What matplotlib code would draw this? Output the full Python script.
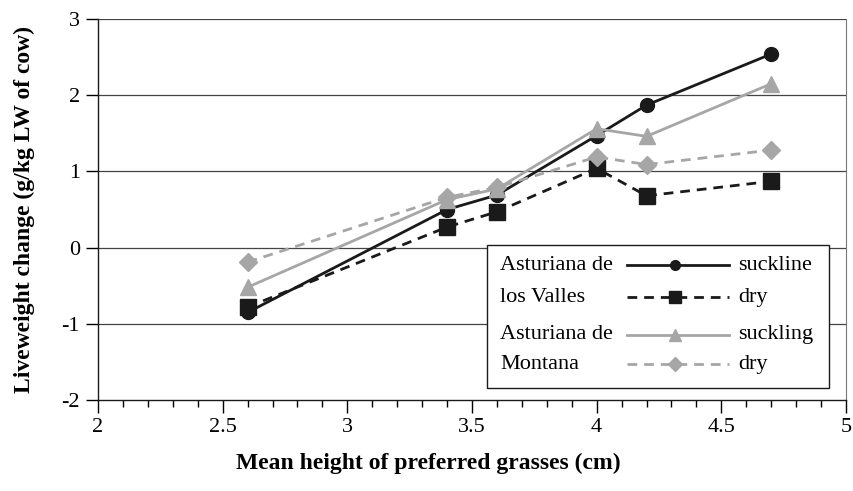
import matplotlib.pyplot as plt
from matplotlib.lines import Line2D
from matplotlib.patches import Rectangle
from matplotlib.ticker import MultipleLocator

plt.rcParams['font.family'] = ['Liberation Serif', 'DejaVu Serif']
plt.rcParams['axes.unicode_minus'] = False

height = [2.6, 3.4, 3.6, 4.0, 4.2, 4.7]
valles_suckling = [-0.85, 0.50, 0.69, 1.47, 1.87, 2.54]
valles_dry = [-0.78, 0.27, 0.47, 1.04, 0.68, 0.87]
montana_suckling = [-0.52, 0.63, 0.77, 1.56, 1.46, 2.15]
montana_dry = [-0.19, 0.66, 0.79, 1.19, 1.09, 1.28]

BLACK = '#1a1a1a'
GREY = '#a6a6a6'

fig = plt.figure(figsize=(8.54, 4.91), dpi=100)
ax = fig.add_axes([0.1148, 0.1853, 0.8758, 0.776])

ax.set_xlim(2, 5)
ax.set_ylim(-2, 3)
for y in range(-1, 4):
    ax.axhline(y, color='#444444', lw=0.9, zorder=1)

dash = (0, (3.5, 2.5))
styles = [
    (valles_suckling, BLACK, '-', 'o', 10, 7),
    (valles_dry, BLACK, dash, 's', 11, 9),
    (montana_suckling, GREY, '-', '^', 11, 9),
    (montana_dry, GREY, dash, 'D', 9, 7),
]
for vals, col, ls, mk, ms, _ in styles:
    ax.plot(height, vals, color=col, ls=ls, lw=2, marker=mk, ms=ms,
            markerfacecolor=col, markeredgecolor=col, zorder=3)

ax.xaxis.set_minor_locator(MultipleLocator(0.1))
ax.yaxis.set_major_locator(MultipleLocator(1))
ax.set_xticks([2, 2.5, 3, 3.5, 4, 4.5, 5])
ax.set_xticklabels(['2', '2.5', '3', '3.5', '4', '4.5', '5'])
ax.tick_params(axis='x', which='major', length=9, width=1, direction='out', labelsize=16, pad=4)
ax.tick_params(axis='x', which='minor', length=5, width=1, direction='out')
ax.tick_params(axis='y', which='major', length=9, width=1, direction='out', labelsize=16, pad=4)

ax.spines['top'].set_visible(False)
ax.spines['right'].set_color('#777777')
for s in ['left', 'bottom']:
    ax.spines[s].set_color(BLACK)
    ax.spines[s].set_linewidth(1)

ax.set_xlabel('Mean height of preferred grasses (cm)', fontsize=17, fontweight='bold')
ax.set_ylabel('Liveweight change (g/kg LW of cow)', fontsize=17, fontweight='bold')
ax.xaxis.set_label_coords(0.441, -0.138)
ax.yaxis.set_label_coords(-0.084, 0.5)

# custom legend
box = Rectangle((0.52, 0.032), 0.457, 0.375, transform=ax.transAxes,
                facecolor='white', edgecolor=BLACK, lw=1, zorder=5)
ax.add_patch(box)
rows_y = [0.354, 0.270, 0.171, 0.094]
names = ['suckline', 'dry', 'suckling', 'dry']
for (vals, col, ls, mk, ms, lms), ry, name in zip(styles, rows_y, names):
    ax.add_line(Line2D([0.707, 0.844], [ry, ry], transform=ax.transAxes,
                       color=col, ls=ls, lw=2, zorder=6))
    ax.add_line(Line2D([0.771], [ry], transform=ax.transAxes, color=col,
                       marker=mk, ms=lms, ls='none', zorder=7))
    ax.text(0.856, ry, name, transform=ax.transAxes, fontsize=16, va='center', zorder=7)
ax.text(0.538, rows_y[0], 'Asturiana de', transform=ax.transAxes, fontsize=16, va='center', zorder=7)
ax.text(0.538, rows_y[1], 'los Valles', transform=ax.transAxes, fontsize=16, va='center', zorder=7)
ax.text(0.538, rows_y[2], 'Asturiana de', transform=ax.transAxes, fontsize=16, va='center', zorder=7)
ax.text(0.538, rows_y[3], 'Montana', transform=ax.transAxes, fontsize=16, va='center', zorder=7)

fig.savefig('out.png', dpi=100)
